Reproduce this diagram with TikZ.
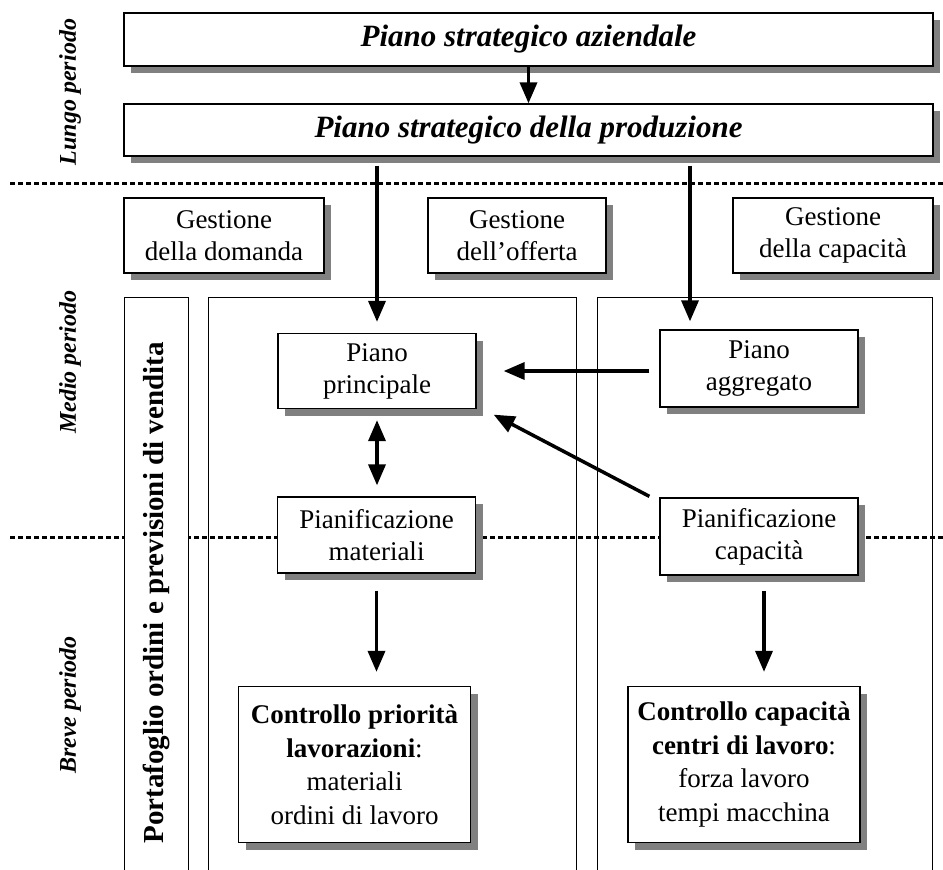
\documentclass[tikz,border=0pt]{standalone}
\usepackage{fontspec}
\setmainfont{Liberation Serif}
\usetikzlibrary{shadows,arrows.meta,calc}

\begin{document}
\begin{tikzpicture}[x=1pt,y=-1pt,
  every node/.style={font=\fontsize{27}{32}\selectfont, align=center, inner sep=0pt},
  plan/.style={draw, line width=1.3pt, fill=white,
    drop shadow={shadow xshift=7pt,shadow yshift=-7pt,fill=black!50,opacity=1}},
  title/.style={plan, font=\fontsize{31}{36}\selectfont\bfseries\itshape},
  frame/.style={draw, line width=0.9pt},
  tip/.tip={Triangle[length=21pt,width=17pt]},
  flow/.style={line width=3.5pt, -tip},
  twoway/.style={line width=3.5pt, tip-tip},
  horizon/.style={line width=3pt, dash pattern=on 5pt off 3pt},
  period/.style={rotate=90, font=\fontsize{24}{28}\selectfont\bfseries\itshape},
]
\clip (0,0) rectangle (943,870);
\fill[white] (0,0) rectangle (943,870);

% time horizons
\draw[horizon] (10,183) -- (943,183);
\draw[horizon] (10,537) -- (943,537);

% column frames
\draw[frame, fill=white] (124,297) rectangle (188,885);
\draw[frame] (208,297) rectangle (576,885);
\draw[frame] (597,297) rectangle (932,885);

% period labels
\node[period] (lungo) at (70,92) {Lungo periodo};
\node[period] (medio) at (70,362) {Medio periodo};
\node[period] (breve) at (70,705) {Breve periodo};
\node[rotate=90, font=\fontsize{29}{32}\selectfont\bfseries] (port) at (156,593)
  {Portafoglio ordini e previsioni di vendita};

% strategic plans
\node[title, minimum width=809pt, minimum height=53pt] (b1) at (528.5,39.5) {Piano strategico aziendale};
\node[title, minimum width=809pt, minimum height=52pt] (b2) at (528.5,130) {Piano strategico della produzione};

% management areas
\node[plan, minimum width=200pt, minimum height=75pt] (gA) at (224,235.5) {Gestione\\della domanda};
\node[plan, minimum width=178pt, minimum height=75pt] (gB) at (517,235.5) {Gestione\\dell’offerta};
\node[plan, minimum width=200pt, minimum height=75pt] (gC) at (833,235.5) {Gestione\\della capacità};

% plans
\node[plan, minimum width=198pt, minimum height=75pt] (pp) at (377,371) {Piano\\principale};
\node[plan, minimum width=198pt, minimum height=77pt] (pa) at (759,368.5) {Piano\\aggregato};
\node[plan, minimum width=198pt, minimum height=76pt] (pm) at (376.5,535) {Pianificazione\\materiali};
\node[plan, minimum width=198pt, minimum height=77pt] (pc) at (759,536.5) {Pianificazione\\capacità};

% controls
\node[plan, minimum width=232pt, minimum height=156pt, font=\fontsize{27}{33.5}\selectfont] (cp) at (354.5,764.5)
  {\textbf{Controllo priorità}\\\textbf{lavorazioni}:\\materiali\\ordini di lavoro};
\node[plan, minimum width=232pt, minimum height=156pt, font=\fontsize{27}{33.5}\selectfont] (cc) at (744,764.5)
  {\textbf{Controllo capacità}\\\textbf{centri di lavoro}:\\forza lavoro\\tempi macchina};

% connectors
\coordinate (ra) at (690,0);
\coordinate (rc) at (764,0);
\draw[flow] (b1.south) -- (b2.north);
\draw[flow, shorten <=9pt, shorten >=11pt] (pp.north |- b2.south) -- (pp.north);
\draw[flow, shorten <=9pt, shorten >=8pt] (ra |- b2.south) -- (ra |- pa.north);
\draw[flow, shorten <=10pt, shorten >=27pt] (pa.west |- pp.east) -- (pp.east);
\draw[flow] ($(pc.north west)+(-10,-1)$) -- ($(pp.south east)+(17,5.5)$);
\draw[twoway, shorten <=11pt, shorten >=11pt] (pp.south) -- (pp.south |- pm.north);
\draw[flow, shorten <=17pt, shorten >=14pt] (pm.south) -- (pm.south |- cp.north);
\draw[flow, shorten <=15pt, shorten >=14pt] (rc |- pc.south) -- (rc |- cc.north);
\end{tikzpicture}
\end{document}
